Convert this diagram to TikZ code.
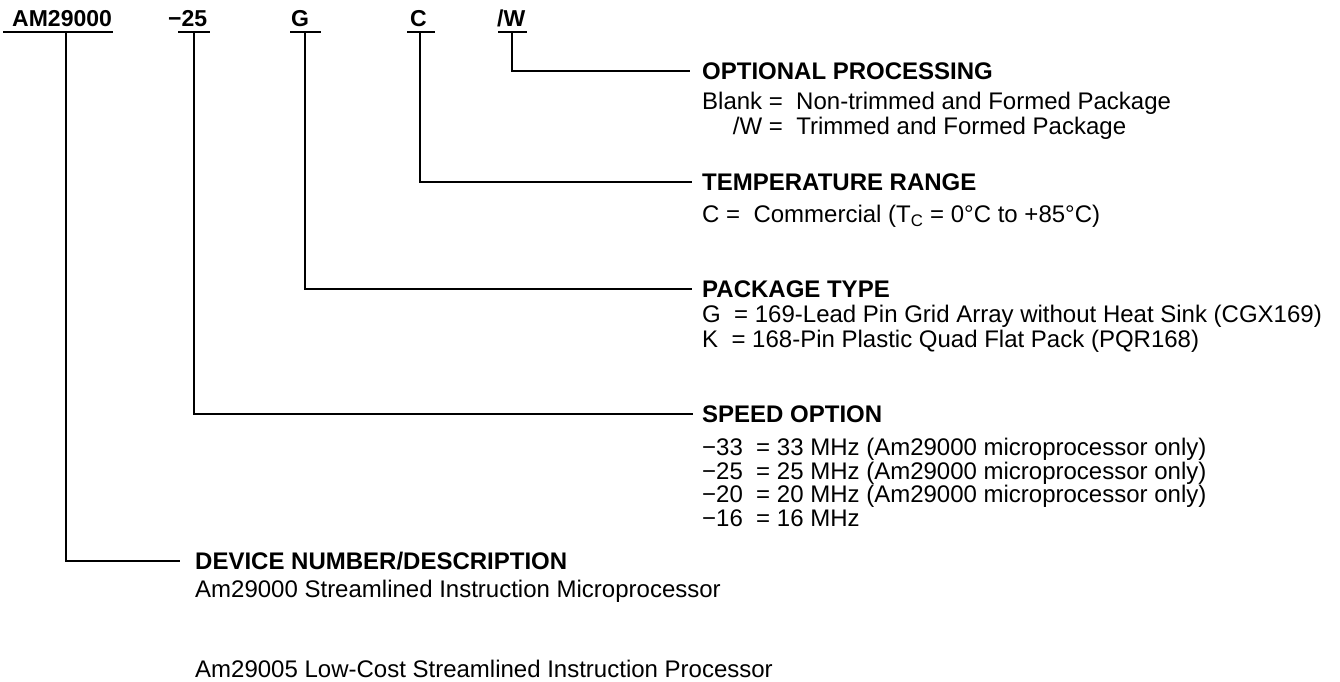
\documentclass[tikz,border=0pt]{standalone}
\usepackage{fontspec}
\setmainfont{Liberation Sans}
\usepackage{calc}
\begin{document}
\begin{tikzpicture}[x=1pt,y=-1pt,
  lbl/.style={font=\fontsize{23}{25}\selectfont\bfseries, inner sep=0pt, anchor=base west},
  hdr/.style={font=\fontsize{24}{26}\selectfont\bfseries, inner sep=0pt, anchor=base west},
  txt/.style={font=\fontsize{24}{26}\selectfont, inner sep=0pt, anchor=base west},
  ln/.style={line width=2.4pt},
  uln/.style={line width=2.6pt}]
\useasboundingbox (0,0) rectangle (1340,681);
% part-number fields
\node[lbl] (am)  at (12,26)  {AM29000};
\node[lbl] (s25) at (168,26) {−25};
\node[lbl] (g)   at (291,26) {G};
\node[lbl] (c)   at (410,26) {C};
\node[lbl] (w)   at (497,26) {/W};
% underline end points
\coordinate (amL) at (3,32);   \coordinate (amR) at (113,32);
\coordinate (sL) at (178,32);  \coordinate (sR) at (210,32);
\coordinate (gL) at (290,32);  \coordinate (gR) at (321,32);
\coordinate (cL) at (407,32);  \coordinate (cR) at (435,32);
\coordinate (wL) at (498,32);  \coordinate (wR) at (527,32);
\draw[uln] (amL) -- (amR);
\draw[uln] (sL) -- (sR);
\draw[uln] (gL) -- (gR);
\draw[uln] (cL) -- (cR);
\draw[uln] (wL) -- (wR);
\coordinate (amT) at (66,32);
\coordinate (sT)  at (194,32);
\coordinate (gT)  at (305,32);
\coordinate (cT)  at (420,32);
\coordinate (wT)  at (512,32);
% headers and descriptions
\node[hdr] (opt)  at (702,79.5) {OPTIONAL PROCESSING};
\node[txt] (opt1) at (702,109.5) {Blank =\ \ Non-trimmed and Formed Package};
\node[txt] (opt2) at (702,134.5) {\makebox[\widthof{Blank}][r]{/W} =\ \ Trimmed and Formed Package};
\node[hdr] (tmp)  at (702,190.5) {TEMPERATURE RANGE};
\node[txt] (tmp1) at (702,222.5) {C =\ \ Commercial (T\textsubscript{C} = 0°C to +85°C)};
\node[hdr] (pkg)  at (702,297.5) {PACKAGE TYPE};
\node[txt] (pkg1) at (702,322.5) {G\ \ = 169-Lead Pin Grid Array without Heat Sink (CGX169)};
\node[txt] (pkg2) at (702,347.5) {K\ \ = 168-Pin Plastic Quad Flat Pack (PQR168)};
\node[hdr] (spd)  at (702,422.5) {SPEED OPTION};
\node[txt] (spd1) at (702,455.5) {−33\ \ = 33 MHz (Am29000 microprocessor only)};
\node[txt] (spd2) at (702,479.5) {−25\ \ = 25 MHz (Am29000 microprocessor only)};
\node[txt] (spd3) at (702,502.5) {−20\ \ = 20 MHz (Am29000 microprocessor only)};
\node[txt] (spd4) at (702,526.5) {−16\ \ = 16 MHz};
\node[hdr] (dev)  at (195,569.5) {DEVICE NUMBER/DESCRIPTION};
\node[txt] (dev1) at (195,597) {Am29000 Streamlined Instruction Microprocessor};
\node[txt] (dev2) at (195,677) {Am29005 Low-Cost Streamlined Instruction Processor};
% connectors
\draw[ln] (wT)  |- ([xshift=-12pt]opt.west);
\draw[ln] (cT)  |- ([xshift=-10pt]tmp.west);
\draw[ln] (gT)  |- ([xshift=-10pt]pkg.west);
\draw[ln] (sT)  |- ([xshift=-9pt]spd.west);
\draw[ln] (amT) |- ([xshift=-15pt]dev.west);
\end{tikzpicture}
\end{document}
